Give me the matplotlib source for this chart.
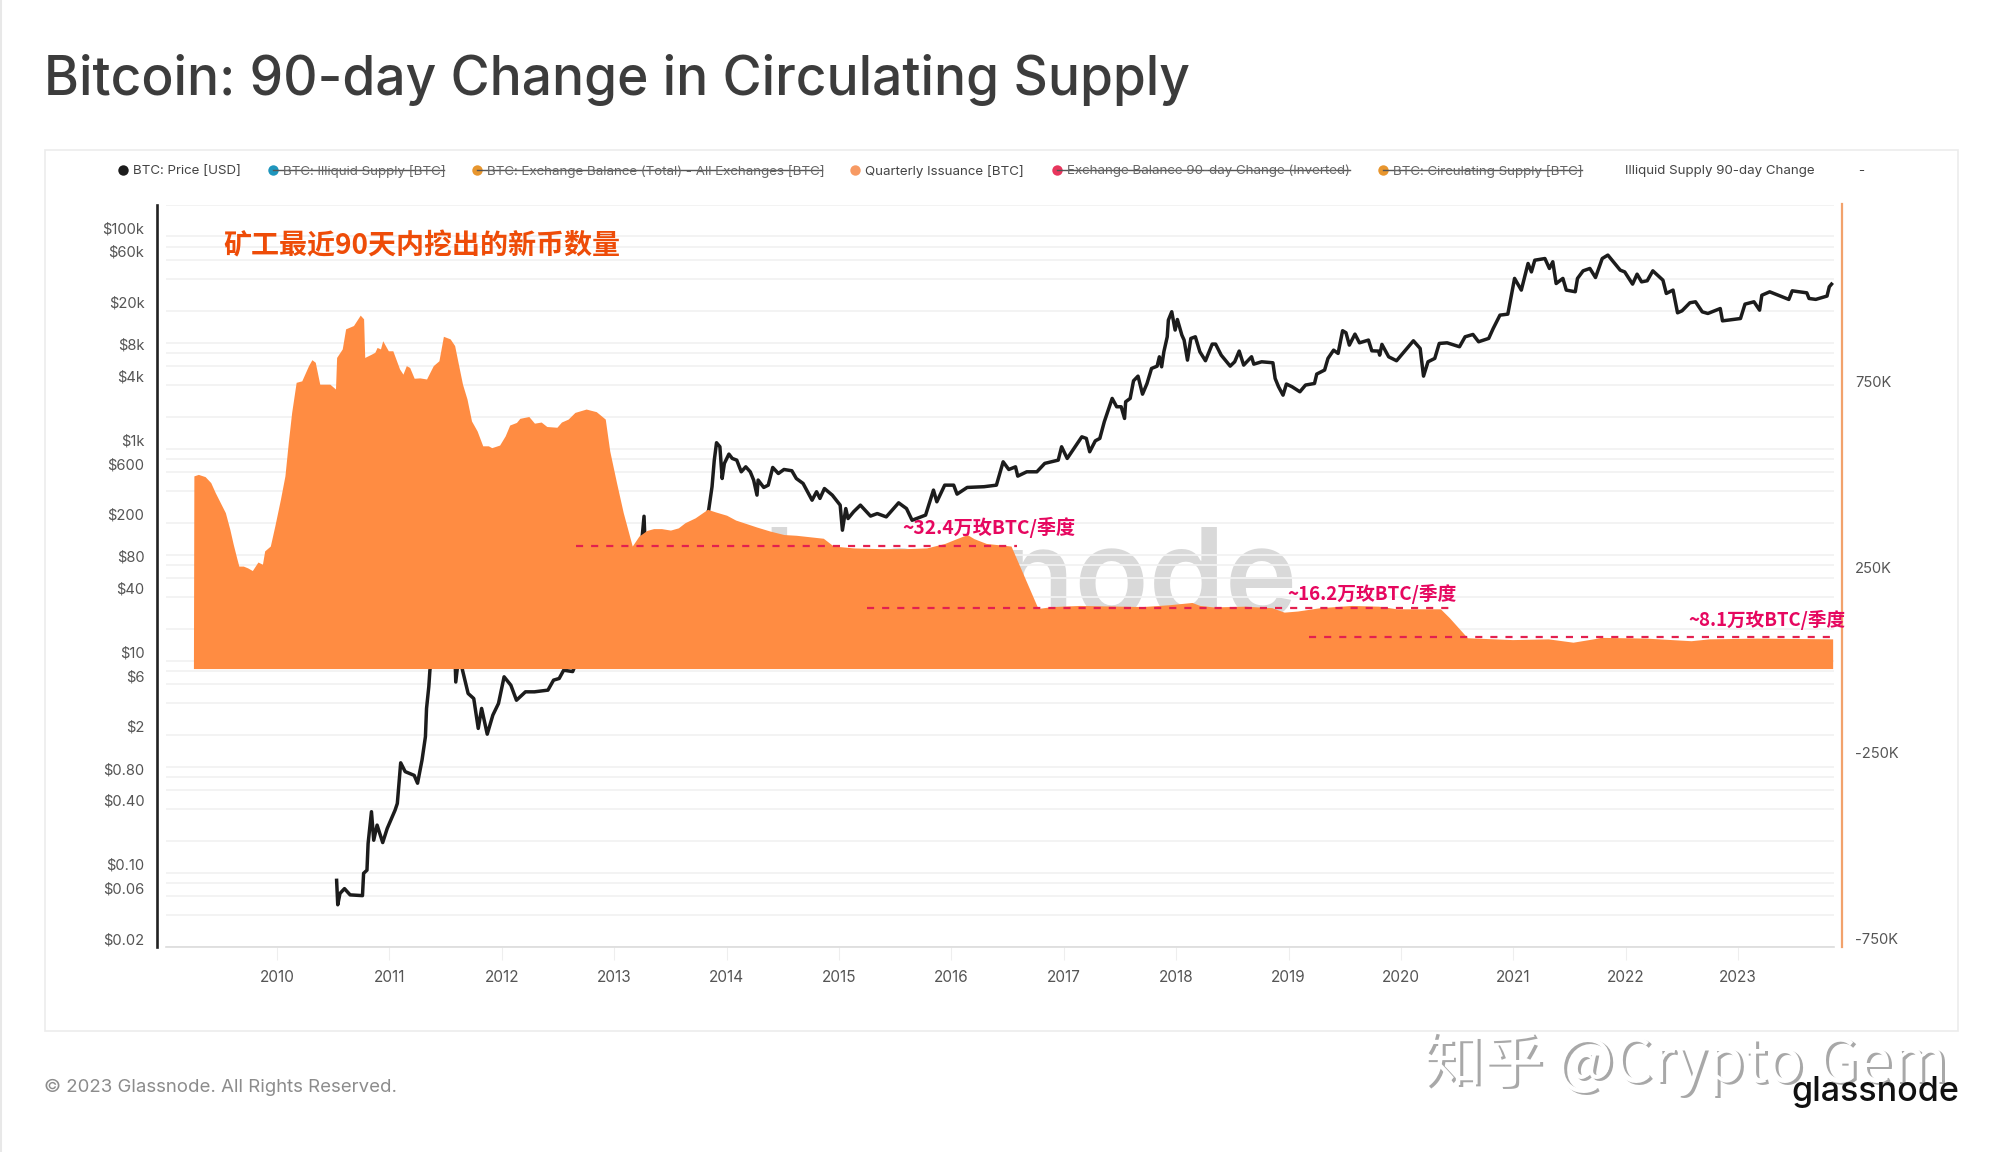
import matplotlib
matplotlib.use('Agg')
import matplotlib.pyplot as plt
from matplotlib.lines import Line2D
from matplotlib.patches import Rectangle
from matplotlib.transforms import ScaledTranslation

W, H = 2000, 1152
CJK = ['Noto Sans CJK SC', 'DejaVu Sans']
plt.rcParams['font.family'] = ['Inter', 'DejaVu Sans']

# quarterly issuance, thousands of BTC
issuance_years = [2009.256, 2009.26, 2009.30, 2009.36, 2009.41, 2009.45, 2009.49, 2009.54, 2009.58, 2009.61,
    2009.64, 2009.66, 2009.70, 2009.74, 2009.78, 2009.83, 2009.87, 2009.89, 2009.94, 2009.98,
    2010.03, 2010.07, 2010.10, 2010.13, 2010.17, 2010.22, 2010.28, 2010.31, 2010.34, 2010.38,
    2010.44, 2010.47, 2010.52, 2010.53, 2010.58, 2010.61, 2010.68, 2010.74, 2010.77, 2010.78,
    2010.84, 2010.87, 2010.89, 2010.92, 2010.94, 2010.99, 2011.03, 2011.09, 2011.12, 2011.15,
    2011.18, 2011.22, 2011.27, 2011.33, 2011.39, 2011.44, 2011.48, 2011.54, 2011.58, 2011.61,
    2011.65, 2011.69, 2011.73, 2011.78, 2011.83, 2011.88, 2011.91, 2011.98, 2012.03, 2012.07,
    2012.13, 2012.16, 2012.24, 2012.29, 2012.35, 2012.40, 2012.49, 2012.53, 2012.59, 2012.65,
    2012.75, 2012.84, 2012.92, 2012.96, 2013.02, 2013.08, 2013.16, 2013.22, 2013.29, 2013.35,
    2013.42, 2013.50, 2013.57, 2013.63, 2013.72, 2013.83, 2013.90, 2014.00, 2014.08, 2014.18,
    2014.27, 2014.39, 2014.51, 2014.62, 2014.74, 2014.86, 2014.95, 2015.13, 2015.37, 2015.60,
    2015.78, 2015.94, 2016.03, 2016.14, 2016.20, 2016.31, 2016.53, 2016.77, 2016.90, 2017.14,
    2017.70, 2017.94, 2018.14, 2018.21, 2018.33, 2018.61, 2018.85, 2018.96, 2019.08, 2019.28,
    2019.56, 2019.80, 2019.96, 2020.35, 2020.43, 2020.59, 2020.99, 2021.31, 2021.53, 2021.71,
    2021.78, 2022.18, 2022.58, 2022.74, 2023.17, 2023.84]
issuance_k = [0, 519, 523, 517, 501, 474, 450, 420, 375, 335,
    299, 276, 276, 271, 264, 287, 281, 317, 330, 384,
    456, 519, 609, 690, 771, 775, 816, 832, 825, 766,
    766, 766, 753, 838, 861, 915, 924, 952, 942, 838,
    847, 852, 865, 861, 883, 856, 856, 807, 793, 816,
    811, 782, 783, 780, 816, 829, 895, 888, 870, 825,
    766, 726, 667, 640, 600, 600, 595, 602, 627, 656,
    663, 674, 679, 661, 664, 652, 650, 664, 672, 690,
    699, 692, 672, 586, 501, 420, 330, 357, 372, 377,
    377, 373, 379, 393, 406, 429, 422, 413, 400, 390,
    381, 370, 361, 359, 355, 351, 330, 325, 323, 323,
    325, 337, 348, 361, 350, 337, 330, 162, 167, 170,
    167, 172, 178, 170, 166, 168, 164, 152, 155, 164,
    170, 168, 161, 161, 137, 83, 78, 80, 71, 80,
    84, 82, 75, 80, 82, 80]

# BTC price, USD
price_years = [2010.53, 2010.54, 2010.56, 2010.60, 2010.65, 2010.76, 2010.77, 2010.80, 2010.81, 2010.84,
    2010.86, 2010.89, 2010.94, 2010.98, 2011.05, 2011.07, 2011.10, 2011.14, 2011.22, 2011.25,
    2011.29, 2011.32, 2011.33, 2011.35, 2011.36, 2011.44, 2011.50, 2011.58, 2011.59, 2011.62,
    2011.65, 2011.70, 2011.75, 2011.79, 2011.82, 2011.87, 2011.92, 2011.97, 2012.02, 2012.08,
    2012.13, 2012.21, 2012.29, 2012.41, 2012.46, 2012.51, 2012.55, 2012.63, 2012.70, 2013.00,
    2013.20, 2013.265, 2013.28, 2013.50, 2013.80, 2013.84, 2013.87, 2013.89, 2013.91, 2013.94,
    2013.96, 2013.98, 2014.02, 2014.05, 2014.09, 2014.13, 2014.17, 2014.21, 2014.24, 2014.27,
    2014.28, 2014.33, 2014.37, 2014.41, 2014.46, 2014.51, 2014.58, 2014.62, 2014.68, 2014.76,
    2014.80, 2014.83, 2014.87, 2014.94, 2015.01, 2015.03, 2015.06, 2015.08, 2015.13, 2015.19,
    2015.28, 2015.34, 2015.42, 2015.53, 2015.60, 2015.65, 2015.77, 2015.84, 2015.87, 2015.94,
    2016.02, 2016.05, 2016.14, 2016.29, 2016.40, 2016.46, 2016.51, 2016.57, 2016.59, 2016.67,
    2016.76, 2016.83, 2016.95, 2016.98, 2017.03, 2017.10, 2017.16, 2017.20, 2017.23, 2017.28,
    2017.32, 2017.36, 2017.40, 2017.43, 2017.47, 2017.51, 2017.54, 2017.55, 2017.59, 2017.62,
    2017.66, 2017.70, 2017.74, 2017.78, 2017.83, 2017.85, 2017.87, 2017.89, 2017.92, 2017.93,
    2017.96, 2017.99, 2018.01, 2018.05, 2018.07, 2018.10, 2018.13, 2018.17, 2018.21, 2018.26,
    2018.32, 2018.35, 2018.40, 2018.48, 2018.52, 2018.56, 2018.60, 2018.67, 2018.69, 2018.76,
    2018.86, 2018.88, 2018.91, 2018.95, 2018.98, 2019.03, 2019.10, 2019.15, 2019.23, 2019.25,
    2019.32, 2019.35, 2019.40, 2019.44, 2019.48, 2019.51, 2019.54, 2019.59, 2019.63, 2019.71,
    2019.74, 2019.80, 2019.81, 2019.83, 2019.89, 2019.96, 2020.04, 2020.11, 2020.17, 2020.20,
    2020.24, 2020.30, 2020.34, 2020.41, 2020.52, 2020.57, 2020.64, 2020.69, 2020.78, 2020.82,
    2020.88, 2020.95, 2021.01, 2021.07, 2021.13, 2021.16, 2021.19, 2021.28, 2021.32, 2021.35,
    2021.38, 2021.44, 2021.47, 2021.55, 2021.57, 2021.62, 2021.68, 2021.73, 2021.79, 2021.84,
    2021.95, 2021.99, 2022.06, 2022.10, 2022.14, 2022.19, 2022.24, 2022.33, 2022.36, 2022.42,
    2022.46, 2022.50, 2022.57, 2022.62, 2022.68, 2022.73, 2022.84, 2022.86, 2023.02, 2023.06,
    2023.14, 2023.19, 2023.21, 2023.28, 2023.45, 2023.48, 2023.61, 2023.63, 2023.69, 2023.79,
    2023.81, 2023.83]
price_usd = [0.085, 0.050, 0.064, 0.071, 0.062, 0.061, 0.099, 0.106, 0.189, 0.377,
    0.203, 0.282, 0.193, 0.262, 0.390, 0.451, 1.09, 0.90, 0.83, 0.70,
    1.16, 1.92, 3.55, 5.68, 8.14, 30, 15, 14, 6.3, 12,
    8.14, 4.91, 4.40, 2.30, 3.55, 2.03, 3.07, 3.95, 7.05, 5.88,
    4.24, 5.09, 5.09, 5.28, 6.56, 6.80, 8.14, 7.9, 12, 13,
    40, 230, 90, 110, 200, 263, 437, 778, 1135, 1040,
    522, 725, 887, 807, 778, 604, 673, 604, 505, 364,
    505, 430, 452, 664, 582, 635, 618, 522, 469, 326,
    392, 339, 420, 364, 293, 170, 272, 219, 254, 293,
    231, 244, 227, 308, 272, 211, 236, 406, 315, 452,
    452, 372, 430, 437, 452, 750, 635, 673, 550, 604,
    604, 725, 778, 1040, 807, 1040, 1291, 1247, 933, 1183,
    1247, 1791, 2390, 2970, 2479, 2479, 1923, 2761, 2971, 4355,
    4820, 3258, 4108, 5690, 5984, 7330, 5900, 8190, 11330, 16260,
    19500, 13100, 16480, 11750, 10540, 6820, 10920, 11320, 8190, 6730,
    9660, 9660, 7600, 5990, 6580, 8300, 6120, 7340, 6250, 6580,
    6440, 4580, 3830, 3190, 4060, 3830, 3430, 3970, 4110, 5040,
    5500, 7080, 8470, 7890, 12920, 12360, 9450, 12000, 9930, 10540,
    8350, 8300, 7600, 9600, 7330, 6730, 8470, 10380, 8790, 4820,
    6580, 7080, 9800, 9930, 9120, 11320, 11910, 10160, 10930, 13560,
    18110, 18510, 40200, 31190, 55600, 46300, 59700, 61900, 49900, 57700,
    35960, 40200, 31190, 30100, 40200, 47400, 49900, 41000, 61900, 66700,
    48100, 46300, 35500, 44100, 37300, 38200, 47400, 38700, 29000, 31200,
    19050, 19900, 23700, 24200, 19450, 18780, 20900, 16000, 16830, 23000,
    24200, 20180, 27900, 30050, 25470, 30700, 29400, 26000, 25500, 27400,
    33500, 35500]

price_grid = [0.02, 0.04, 0.06, 0.08, 0.1, 0.2, 0.4, 0.6, 0.8, 1, 2, 4, 6, 8, 10, 20, 40, 60, 80,
    100, 200, 400, 600, 800, 1000, 2000, 4000, 6000, 8000, 10000, 20000, 40000, 60000, 80000, 100000, 200000]
price_labels = {0.02: '$0.02', 0.06: '$0.06', 0.1: '$0.10', 0.4: '$0.40', 0.8: '$0.80', 2: '$2', 6: '$6', 10: '$10',
    40: '$40', 80: '$80', 200: '$200', 600: '$600', 1000: '$1k', 4000: '$4k', 8000: '$8k', 20000: '$20k',
    60000: '$60k', 100000: '$100k'}
right_ticks = [-750, -250, 250, 750]
right_labels = ['-750K', '-250K', '250K', '750K']
year_ticks = list(range(2010, 2024))

# halving levels: start year, end year, level (k BTC), label
level_starts = [2012.66, 2015.25, 2019.18]
level_ends = [2016.58, 2020.44, 2023.84]
level_values = [331, 162, 84]
level_labels = ['~32.4万玫BTC/季度', '~16.2万玫BTC/季度', '~8.1万玫BTC/季度']
level_label_x = [2015.56, 2018.99, 2022.56]
level_label_y = [380, 200, 130]
level_font = [13.8, 13.5, 13.4]

legend_names = ['BTC: Price [USD]', 'BTC: Illiquid Supply [BTC]', 'BTC: Exchange Balance (Total) - All Exchanges [BTC]',
    'Quarterly Issuance [BTC]', 'Exchange Balance 90-day Change (Inverted)', 'BTC: Circulating Supply [BTC]',
    'Illiquid Supply 90-day Change', '-']
legend_colors = ['#1c1c1c', '#1f96bd', '#e8962e', '#f79a63', '#e8365d', '#e8962e', None, None]
legend_struck = [False, True, True, False, True, True, False, False]
legend_dot_x = [123, 273, 477, 855, 1057, 1383, None, None]
legend_text_x = [133, 283, 487, 865, 1067, 1393, 1625, 1858]
legend_text_end = [240, 444, 822, 1024, 1350, 1582, 1815, 1864]


def fx(px):
    return px / W


def fy(px):
    return 1 - px / H


fig = plt.figure(figsize=(W / 100, H / 100), dpi=100, facecolor='white')

# page furniture
fig.add_artist(Line2D([fx(1), fx(1)], [0, 1], color='#e8e8e8', lw=1.5))
fig.add_artist(Rectangle((fx(45), fy(1031)), fx(1913), 881 / H, fill=False, ec='#ececec', lw=1.2))
fig.text(fx(44), fy(95), 'Bitcoin: 90-day Change in Circulating Supply', fontsize=38.4, fontweight=500,
         color='#3c3c3c', va='baseline', ha='left')
fig.text(fx(44), fy(1087), '© 2023 Glassnode. All Rights Reserved.', fontsize=13.4, color='#8c8c8c',
         va='center', ha='left')

# legend
for i in range(len(legend_names)):
    struck = legend_struck[i]
    fig.text(fx(legend_text_x[i]), fy(171), legend_names[i], fontsize=9.6, va='center', ha='left',
             color='#666666' if struck else '#444444')
    if legend_dot_x[i] is not None:
        fig.add_artist(Line2D([fx(legend_dot_x[i])], [fy(170)], marker='o', ms=7.5, mew=0, color=legend_colors[i]))
    if struck:
        fig.add_artist(Line2D([fx(legend_dot_x[i]), fx(legend_text_end[i])], [fy(170), fy(170)], color='#555555', lw=1))

# watermark sits behind both axes
fig.text(fx(1298), fy(617), 'glassnode', fontsize=88, fontweight=600, color='#d9d9d9', ha='right', va='baseline',
         zorder=-1)

ax = fig.add_axes([fx(166), fy(947), fx(1834 - 166), (947 - 204.5) / H])
ax.patch.set_alpha(0)
ax.plot(price_years, price_usd, color='#1c1c1c', lw=2.5, solid_joinstyle='round')
ax.set_yscale('log')
ax.set_ylim(0.02, 200000)
ax.set_xlim(2009.012, 2023.852)
ax.set_yticks(price_grid)
ax.set_yticklabels([price_labels.get(v, '') for v in price_grid])
ax.minorticks_off()
ax.tick_params(axis='y', length=0, pad=9, labelsize=10.6, labelcolor='#555555')
ax.grid(axis='y', color='#f2f2f2', lw=1.3)
ax.set_axisbelow(True)
ax.set_xticks(year_ticks)
ax.set_xticklabels(year_ticks)
ax.tick_params(axis='x', length=9.5, width=0.8, color='#eeeeee', labelsize=11, labelcolor='#555555', pad=7)
ax.spines['top'].set_visible(False)
ax.spines['right'].set_visible(False)
ax.spines['bottom'].set_color('#dcdcdc')
ax.spines['bottom'].set_linewidth(1.2)
ax.spines['left'].set_position(('outward', 6.5))
ax.spines['left'].set_color('#222222')
ax.spines['left'].set_linewidth(1.9)

ax2 = ax.twinx()
ax2.fill_between(issuance_years, issuance_k, 0, color='#ff8c42', lw=0)
ax2.set_ylim(-750, 1250)
ax2.set_yticks(right_ticks)
ax2.set_yticklabels(right_labels)
ax2.tick_params(axis='y', length=0, pad=9, labelsize=10.6, labelcolor='#555555')
for side in ['top', 'left', 'bottom']:
    ax2.spines[side].set_visible(False)
ax2.spines['right'].set_position(('outward', 6))
ax2.spines['right'].set_color('#f2a26c')
ax2.spines['right'].set_linewidth(1.6)

# y labels sit just above their gridlines
lift = ScaledTranslation(0, 8.5 / 100, fig.dpi_scale_trans)
for lab in ax.get_yticklabels() + ax2.get_yticklabels():
    lab.set_transform(lab.get_transform() + lift)

for i in range(len(level_values)):
    ax2.plot([level_starts[i], level_ends[i]], [level_values[i], level_values[i]], color='#e3204f', lw=1.6,
             dashes=(3.2, 3.6))
    ax2.text(level_label_x[i], level_label_y[i], level_labels[i], family=CJK, fontsize=level_font[i],
             fontweight='bold', color='#e6075f', ha='left', va='center')
ax2.text(2009.52, 1136, '矿工最近90天内挖出的新币数量', family=CJK, fontsize=20.2, fontweight='bold', color='#ee4c08',
         ha='left', va='center')

# zhihu stamp: grey copy with a white one on top, and the logo last
fig.text(fx(1426), fy(1084), '知乎 @Crypto Gem', family=CJK, fontsize=43.3, color='#a8a8a8', ha='left', va='baseline')
fig.text(fx(1423), fy(1082), '知乎 @Crypto Gem', family=CJK, fontsize=43.3, color='#ffffff', ha='left', va='baseline')
fig.text(fx(1959), fy(1101), 'glassnode', fontsize=24.5, fontweight=500, color='#111111', ha='right', va='baseline')

fig.savefig('out.png', dpi=100)
